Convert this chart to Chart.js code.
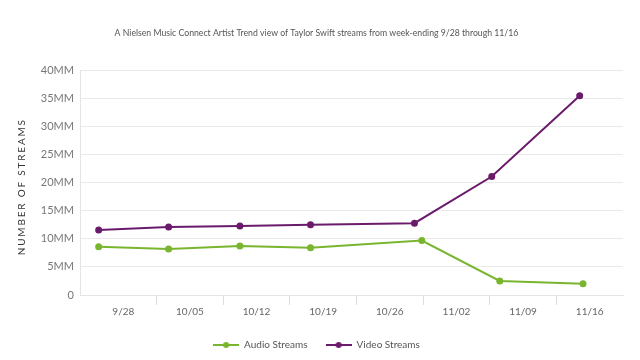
<!DOCTYPE html>
<html>
<head>
<meta charset="utf-8">
<script src="https://cdn.jsdelivr.net/npm/chart.js@4"></script>
<style>
  html, body { margin: 0; padding: 0; background: #ffffff; }
  #wrap { width: 640px; height: 360px; }
</style>
</head>
<body>
<div id="wrap"><canvas id="c" width="640" height="360"></canvas></div>
<script>
const chartTitle = 'A Nielsen Music Connect Artist Trend view of Taylor Swift streams from week-ending 9/28 through 11/16';
const yAxisTitle = 'NUMBER OF STREAMS';
const weekLabels = ['9/28', '10/05', '10/12', '10/19', '10/26', '11/02', '11/09', '11/16'];
const seriesNames = ['Audio Streams', 'Video Streams'];
// x positions of points in week units
const audioWeek = [0.13, 1.18, 2.25, 3.31, 4.98, 6.15, 7.40];
const audioValues = [8.6, 8.2, 8.75, 8.4, 9.7, 2.5, 2.0];   // millions
const videoWeek = [0.13, 1.18, 2.25, 3.31, 4.87, 6.03, 7.35];
const videoValues = [11.6, 12.1, 12.3, 12.5, 12.8, 21.1, 35.5]; // millions
const yTickValues = [0, 5, 10, 15, 20, 25, 30, 35, 40];

const GREEN = '#7ab52f';
const PURPLE = '#6b1b6b';
const FONT = 'Lato';

function legendIcon(color) {
  const c = document.createElement('canvas');
  c.width = 26; c.height = 8;
  const g = c.getContext('2d');
  g.strokeStyle = color; g.lineWidth = 2;
  g.beginPath(); g.moveTo(0, 4); g.lineTo(26, 4); g.stroke();
  g.fillStyle = color;
  g.beginPath(); g.arc(13, 4, 3, 0, Math.PI * 2); g.fill();
  return c;
}
const icons = [legendIcon(GREEN), legendIcon(PURPLE)];

const yTitlePlugin = {
  id: 'yTitle',
  afterDraw(chart) {
    const ctx = chart.ctx;
    const a = chart.chartArea;
    ctx.save();
    ctx.translate(a.left - 58, (a.top + a.bottom) / 2 + 4);
    ctx.rotate(-Math.PI / 2);
    ctx.font = '10px ' + FONT;
    ctx.letterSpacing = '1.8px';
    ctx.fillStyle = '#333333';
    ctx.textAlign = 'center';
    ctx.textBaseline = 'middle';
    ctx.fillText(yAxisTitle, 0, 0);
    ctx.restore();
  }
};

const xTickValues = [];
weekLabels.forEach((l, i) => {
  if (i > 0) xTickValues.push(i);
  xTickValues.push(i + 0.5);
});

new Chart(document.getElementById('c'), {
  type: 'line',
  data: {
    datasets: [
      {
        label: seriesNames[0],
        data: audioWeek.map((x, i) => ({ x: x, y: audioValues[i] })),
        borderColor: GREEN, backgroundColor: GREEN,
        pointBackgroundColor: GREEN, pointBorderColor: GREEN,
        borderWidth: 2, pointRadius: 2.5, tension: 0
      },
      {
        label: seriesNames[1],
        data: videoWeek.map((x, i) => ({ x: x, y: videoValues[i] })),
        borderColor: PURPLE, backgroundColor: PURPLE,
        pointBackgroundColor: PURPLE, pointBorderColor: PURPLE,
        borderWidth: 2, pointRadius: 2.5, tension: 0
      }
    ]
  },
  options: {
    responsive: false,
    animation: false,
    layout: { padding: { top: 28, left: 10, right: 17, bottom: 0 } },
    plugins: {
      title: {
        display: true, text: chartTitle, color: '#555555',
        font: { family: FONT, size: 8.7, weight: 'normal' }, padding: { top: 0, bottom: 32 }
      },
      legend: {
        position: 'bottom',
        labels: {
          color: '#555555', font: { family: FONT, size: 10 },
          usePointStyle: true, pointStyleWidth: 26, boxHeight: 8, padding: 18,
          generateLabels(chart) {
            return Chart.defaults.plugins.legend.labels.generateLabels(chart)
              .map(l => Object.assign(l, { pointStyle: icons[l.datasetIndex] }));
          }
        }
      },
      tooltip: { enabled: false }
    },
    scales: {
      x: {
        type: 'linear', min: -0.15, max: 8,
        afterBuildTicks(axis) { axis.ticks = xTickValues.map(v => ({ value: v })); },
        afterFit(scale) { scale.height += 3; },
        grid: {
          drawOnChartArea: false, drawTicks: true, tickLength: 10, lineWidth: 1,
          color: ctx => (ctx.tick && Number.isInteger(ctx.tick.value)) ? '#dedede' : 'rgba(0,0,0,0)'
        },
        border: { display: true, color: '#e4e4e4', width: 1 },
        ticks: {
          autoSkip: false, maxRotation: 0, color: '#666666', padding: 1,
          font: { family: FONT, size: 10 },
          callback: v => Number.isInteger(v) ? '' : weekLabels[Math.floor(v)]
        }
      },
      y: {
        min: 0, max: 40,
        afterBuildTicks(axis) { axis.ticks = yTickValues.map(v => ({ value: v })); },
        afterFit(scale) { scale.width = 70; },
        grid: { color: '#e9e9e9', drawTicks: false, lineWidth: 1 },
        border: { display: true, color: '#e4e4e4', width: 1 },
        ticks: {
          color: '#777777', padding: 6, font: { family: FONT, size: 11 },
          callback: v => v === 0 ? '0' : v + 'MM'
        }
      }
    }
  },
  plugins: [yTitlePlugin]
});
</script>
</body>
</html>
